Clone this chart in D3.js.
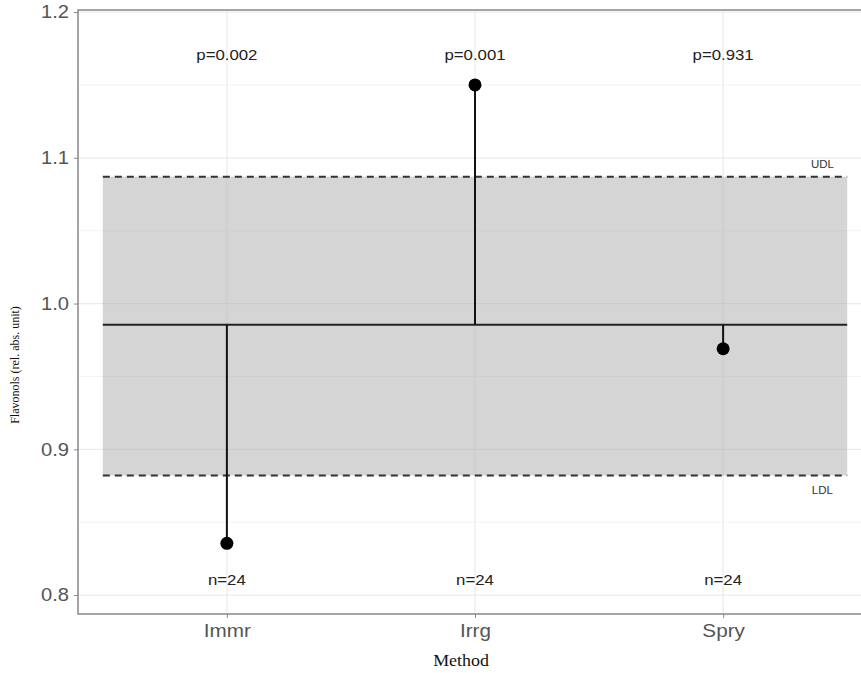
<!DOCTYPE html>
<html>
<head>
<meta charset="utf-8">
<script src="https://cdn.jsdelivr.net/npm/d3@7"></script>
<style>
  body { margin: 0; background: #fff; }
  svg { display: block; }
</style>
</head>
<body>
<div id="chart"></div>
<script>
// data
const methods = ['Immr', 'Irrg', 'Spry'];
const values = [0.8355, 1.150, 0.969];
const pLabels = ['p=0.002', 'p=0.001', 'p=0.931'];
const nLabels = ['n=24', 'n=24', 'n=24'];
const centerLine = 0.9855;
const udl = 1.087;
const ldl = 0.882;
const yTicks = [0.8, 0.9, 1.0, 1.1, 1.2];
const yMinor = [0.85, 0.95, 1.05, 1.15];

const width = 861;
const height = 673;

// panel runs past the right edge of the picture (cropped)
const panel = { left: 78, right: 872, top: 10, bottom: 614 };
const sans = '"Liberation Sans", Arial, sans-serif';
const serif = '"Liberation Serif", "Times New Roman", serif';

const svg = d3.select('#chart')
  .append('svg')
  .attr('width', width)
  .attr('height', height);

// discrete x as positions 1..3, with ggplot-style expansion
const x = d3.scaleLinear().domain([0.4, 3.6]).range([panel.left, panel.right]);
const y = d3.scaleLinear().domain([0.787, 1.2014]).range([panel.bottom, panel.top]);

// the source picture is stretched a bit horizontally, so text is too
function wideText(parent, px, py, str, size, fill, family, stretch) {
  parent.append('g')
    .attr('transform', `translate(${px},${py})`)
    .append('text')
    .attr('transform', `scale(${stretch},1)`)
    .attr('text-anchor', 'middle')
    .style('font-size', size + 'px')
    .style('font-family', family)
    .style('fill', fill)
    .text(str);
}

// grid
svg.append('g')
  .selectAll('line')
  .data(yMinor)
  .join('line')
  .attr('x1', panel.left).attr('x2', panel.right)
  .attr('y1', d => y(d)).attr('y2', d => y(d))
  .attr('stroke', '#f2f2f2').attr('stroke-width', 1);

svg.append('g')
  .selectAll('line')
  .data(yTicks)
  .join('line')
  .attr('x1', panel.left).attr('x2', panel.right)
  .attr('y1', d => y(d)).attr('y2', d => y(d))
  .attr('stroke', '#ebebeb').attr('stroke-width', 1.2);

svg.append('g')
  .selectAll('line')
  .data(methods)
  .join('line')
  .attr('x1', (d, i) => x(i + 1)).attr('x2', (d, i) => x(i + 1))
  .attr('y1', panel.top).attr('y2', panel.bottom)
  .attr('stroke', '#ebebeb').attr('stroke-width', 1.2);

// shaded band between the limits
svg.append('rect')
  .attr('x', x(0.5))
  .attr('width', x(3.5) - x(0.5))
  .attr('y', y(udl))
  .attr('height', y(ldl) - y(udl))
  .attr('fill', '#b3b3b3')
  .attr('fill-opacity', 0.55);

// limit lines
[udl, ldl].forEach(v => {
  svg.append('line')
    .attr('x1', x(0.5)).attr('x2', x(3.5))
    .attr('y1', y(v)).attr('y2', y(v))
    .attr('stroke', '#333').attr('stroke-width', 2)
    .attr('stroke-dasharray', '7,5');
});

wideText(svg, x(3.4), y(udl) - 9, 'UDL', 10, '#333', sans, 1.15);
wideText(svg, x(3.4), y(ldl) + 18, 'LDL', 10, '#333', sans, 1.15);

// centre line
svg.append('line')
  .attr('x1', x(0.5)).attr('x2', x(3.5))
  .attr('y1', y(centerLine)).attr('y2', y(centerLine))
  .attr('stroke', '#222').attr('stroke-width', 2);

// stems and points
svg.append('g')
  .selectAll('line')
  .data(values)
  .join('line')
  .attr('x1', (d, i) => x(i + 1)).attr('x2', (d, i) => x(i + 1))
  .attr('y1', y(centerLine)).attr('y2', d => y(d))
  .attr('stroke', '#111').attr('stroke-width', 2);

svg.append('g')
  .selectAll('circle')
  .data(values)
  .join('circle')
  .attr('cx', (d, i) => x(i + 1))
  .attr('cy', d => y(d))
  .attr('r', 6.5)
  .attr('fill', '#000');

// p and n labels
pLabels.forEach((d, i) => wideText(svg, x(i + 1), 60, d, 14, '#222', sans, 1.2));
nLabels.forEach((d, i) => wideText(svg, x(i + 1), 585, d, 14, '#222', sans, 1.2));

// panel border (left, top, bottom visible)
svg.append('rect')
  .attr('x', panel.left).attr('y', panel.top)
  .attr('width', panel.right - panel.left).attr('height', panel.bottom - panel.top)
  .attr('fill', 'none')
  .attr('stroke', '#888').attr('stroke-width', 1.5);

// y axis
const yAxis = svg.append('g')
  .attr('transform', `translate(${panel.left},0)`)
  .call(d3.axisLeft(y).tickValues(yTicks).tickFormat(d3.format('.1f')).tickSize(4).tickPadding(5));
yAxis.select('.domain').remove();
yAxis.selectAll('.tick line').attr('stroke', '#888');
yAxis.selectAll('.tick text')
  .attr('transform', 'scale(1.12,1)')
  .attr('x', -9 / 1.12)
  .style('font', '18px ' + sans)
  .style('fill', '#555');

// x axis
const xAxis = svg.append('g')
  .attr('transform', `translate(0,${panel.bottom})`)
  .call(d3.axisBottom(x).tickValues([1, 2, 3]).tickFormat((d) => methods[d - 1]).tickSize(4).tickPadding(6));
xAxis.select('.domain').remove();
xAxis.selectAll('.tick line').attr('stroke', '#888');
xAxis.selectAll('.tick text')
  .attr('transform', 'scale(1.15,1)')
  .style('font', '18px ' + sans)
  .style('fill', '#555');

// axis titles
wideText(svg, 461, 666, 'Method', 16, '#111', serif, 1.12);

svg.append('text')
  .attr('transform', 'translate(19,365) rotate(-90)')
  .attr('text-anchor', 'middle')
  .style('font', '12px ' + serif)
  .style('fill', '#111')
  .text('Flavonols (rel. abs. unit)');
</script>
</body>
</html>
